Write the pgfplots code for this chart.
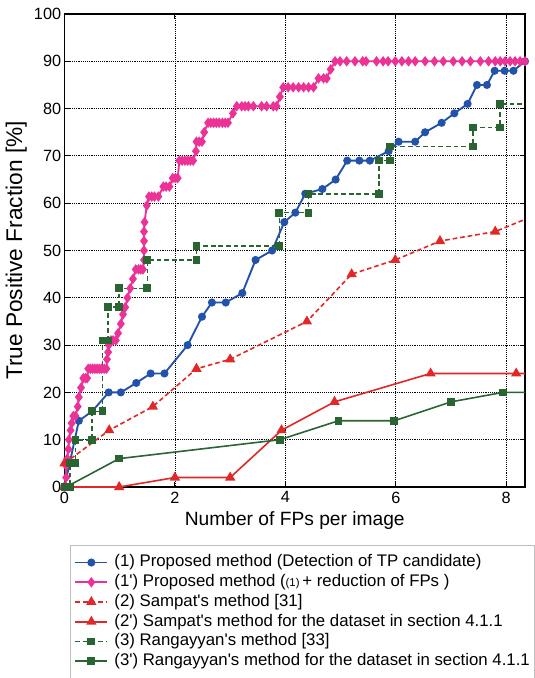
\documentclass[border=0pt]{standalone}
\usepackage{pgfplots}
\pgfplotsset{compat=1.18}
\usepackage{fontspec}
\setmainfont{Liberation Sans}[Ligatures=TeXOff]
\definecolor{cblue}{HTML}{2352AA}
\definecolor{cpink}{HTML}{EC3296}
\definecolor{cred}{HTML}{E02828}
\definecolor{cgreen}{HTML}{2A6433}
\begin{document}
\begin{tikzpicture}
\begin{axis}[
  name=ax,
  scale only axis,
  width=345.4pt, height=354.75pt,
  xmin=0, xmax=8.34, ymin=0, ymax=100,
  xtick={0,2,4,6,8}, ytick={0,10,...,100},
  /pgf/number format/assume math mode=true,
  tick label style={font=\fontsize{12.2}{14}\selectfont},
  yticklabel style={xshift=1pt},
  grid=major,
  major grid style={black, densely dotted, line width=0.6pt},
  axis line style={black, line width=1.3pt},
  tick style={black, line width=0.8pt},
  major tick length=4pt,
  tick align=inside,
  xlabel={Number of FPs per image},
  ylabel={True Positive Fraction [\%]},
  xlabel style={font=\fontsize{14.4}{16}\selectfont, at={(axis description cs:0.5,-0.07)}, anchor=center},
  ylabel style={font=\fontsize{17}{19}\selectfont, at={(axis description cs:-0.105,0.5)}, anchor=center},
  legend image code/.code={\draw[mark repeat=2,mark phase=2,#1] plot coordinates {(0pt,0pt)(12pt,0pt)(24pt,0pt)};},
  legend style={at={(axis description cs:0.012,-0.1226)}, anchor=north west,
    draw=gray!50, line width=0.6pt, font=\fontsize{12.6}{14}\selectfont,
    inner xsep=3pt, inner ysep=6.5pt,
    nodes={inner sep=0.6pt, text height=9pt, text depth=2.5pt},
    row sep=2.1pt, column sep=4pt},
  legend cell align=left,
]
% (1) blue
\addplot[cblue, line width=1.4pt, mark=*, mark size=2.3pt, mark options={solid, fill=cblue}] coordinates {
(0,0) (0.26,14) (0.5,16) (0.8,20) (1.02,20) (1.3,22) (1.56,24) (1.81,24) (2.23,30) (2.49,36) (2.67,39) (2.92,39) (3.22,41) (3.46,48) (3.76,50) (3.98,56) (4.18,58) (4.36,62) (4.67,63) (4.91,65) (5.12,69) (5.34,69) (5.53,69) (5.87,71) (6.05,73) (6.35,73) (6.53,75) (6.83,77) (7.06,79) (7.3,81) (7.47,85) (7.65,85) (7.79,88) (7.97,88) (8.13,88) (8.34,90)
};
\addlegendentry{(1) Proposed method (Detection of TP candidate)}
% (1') pink
\addplot[cpink, line width=1.4pt, mark=diamond*, mark size=2.8pt, mark options={solid, fill=cpink}] coordinates {
(0,0) (0.03,2) (0.03,4.5) (0.05,6) (0.07,8) (0.08,10) (0.11,12) (0.13,13.5) (0.16,15) (0.2,15) (0.24,17) (0.26,19) (0.3,21) (0.34,23) (0.38,23) (0.41,23) (0.43,25) (0.47,25) (0.51,25) (0.55,25) (0.59,25) (0.63,25) (0.67,25) (0.72,25) (0.76,25) (0.77,27) (0.79,28.5) (0.8,30) (0.84,31) (0.88,31) (0.93,31) (0.97,32.5) (1.02,34.5) (1.06,36.5) (1.1,38) (1.14,40) (1.19,42) (1.24,44) (1.29,46) (1.34,46) (1.38,46) (1.42,46) (1.44,48) (1.44,50) (1.44,52) (1.44,54) (1.45,56) (1.49,59.5) (1.53,61.4) (1.58,61.4) (1.63,61.4) (1.7,61.4) (1.79,63.5) (1.84,63.5) (1.9,63.5) (1.96,65.3) (2.01,65.3) (2.05,65.3) (2.08,69) (2.13,69) (2.18,69) (2.23,69) (2.28,69) (2.33,69) (2.38,71) (2.39,73) (2.44,73) (2.49,73) (2.53,75) (2.6,77) (2.65,77) (2.7,77) (2.75,77) (2.8,77) (2.86,77) (2.91,77) (2.96,77) (3.05,79) (3.12,80.5) (3.21,80.5) (3.27,80.5) (3.33,80.5) (3.42,80.5) (3.57,80.5) (3.66,80.5) (3.78,80.5) (3.84,80.5) (3.9,82.5) (3.96,84.5) (4.05,84.5) (4.14,84.5) (4.24,84.5) (4.33,84.5) (4.42,84.5) (4.51,84.5) (4.6,86.4) (4.69,86.4) (4.75,86.4) (4.82,88.3) (4.9,90) (4.99,90) (5.11,90) (5.26,90) (5.4,90) (5.46,90) (5.65,90) (5.77,90) (5.86,90) (5.99,90) (6.11,90) (6.23,90) (6.35,90) (6.53,90) (6.7,90) (6.86,90) (7.04,90) (7.2,90) (7.35,90) (7.53,90) (7.68,90) (7.8,90) (7.89,90) (7.98,90) (8.07,90) (8.16,90) (8.25,90) (8.34,90)
};
\addlegendentry{(1') Proposed method ({\fontsize{8.5}{10}\selectfont(1)}\,+ reduction of FPs )}
% (2) red dashed
\addplot[cred, line width=1.2pt, dash pattern=on 3.5pt off 2.2pt, mark=triangle*, mark size=3.3pt, mark options={solid, fill=cred}] coordinates {
(0,5) (0.81,12) (1.6,17) (2.39,25) (3.0,27) (4.39,35) (5.2,45) (5.99,48) (6.8,52) (7.8,54) (8.7,58.3)
};
\addlegendentry{(2) Sampat's method [31]}
% (2') red solid
\addplot[cred, line width=1.2pt, mark=triangle*, mark size=3.3pt, mark options={solid, fill=cred}] coordinates {
(0,0) (0.99,0) (2.0,2) (3.0,2) (3.93,12) (4.89,18) (6.63,24) (8.18,24) (8.7,24)
};
\addlegendentry{(2') Sampat's method for the dataset in section 4.1.1}
% (3) green dashed
\addplot[cgreen, line width=1.2pt, dash pattern=on 3.5pt off 2.2pt, mark=square*, mark size=2.3pt, mark options={solid, fill=cgreen}] coordinates {
(0,0) (0.1,0) (0.1,5) (0.2,5) (0.2,10) (0.5,10) (0.5,16) (0.69,16) (0.69,31) (0.79,31) (0.79,38) (0.99,38) (0.99,42) (1.5,42) (1.5,48) (2.39,48) (2.39,51) (3.89,51) (3.89,58) (4.42,58) (4.42,62) (5.7,62) (5.7,69) (5.9,69) (5.9,72) (7.4,72) (7.4,76) (7.89,76) (7.89,81) (8.7,81)
};
\addlegendentry{(3) Rangayyan's method [33]}
% (3') green solid
\addplot[cgreen, line width=1.2pt, mark=square*, mark size=2.3pt, mark options={solid, fill=cgreen}] coordinates {
(0.03,0) (0.99,6) (3.9,10) (4.96,14) (5.97,14) (7.0,18) (7.94,20) (8.7,20)
};
\addlegendentry{(3') Rangayyan's method for the dataset in section 4.1.1}
\end{axis}
\pgfresetboundingbox
\path ([shift={(-48.375pt,-143.25pt)}]ax.south west) rectangle ([shift={(6.75pt,10.5pt)}]ax.north east);
\end{tikzpicture}
\end{document}
